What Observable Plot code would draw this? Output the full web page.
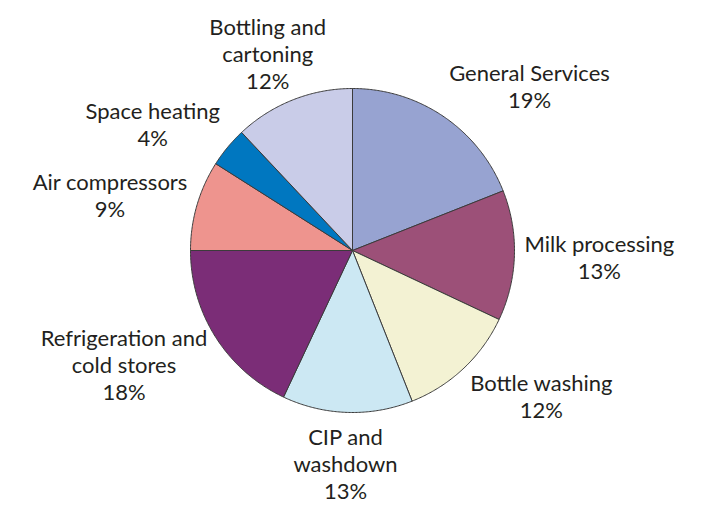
<!DOCTYPE html>
<html>
<head>
<meta charset="utf-8">
<script src="https://cdn.jsdelivr.net/npm/d3@7"></script>
<script src="https://cdn.jsdelivr.net/npm/@observablehq/plot@0.6"></script>
<style>
  html, body { margin: 0; padding: 0; background: #fff; }
</style>
</head>
<body>
<div id="chart"></div>
<script>
// ---- data ----
const categories = ["General Services", "Milk processing", "Bottle washing", "CIP and washdown",
  "Refrigeration and cold stores", "Air compressors", "Space heating", "Bottling and cartoning"];
const labelText = ["General Services", "Milk processing", "Bottle washing", "CIP and\nwashdown",
  "Refrigeration and\ncold stores", "Air compressors", "Space heating", "Bottling and\ncartoning"];
const shares = [19, 13, 12, 13, 18, 9, 4, 12];
const colors = ["#97a3d1", "#9c5078", "#f3f2d3", "#cce8f3", "#7b2d77", "#ee948e", "#0077c0", "#c9cce8"];

// ---- layout ----
const W = 705, H = 505;
const R = 162;               // pie radius in px (1 data unit)
const FONT = "Lato";
const FS = 22;
const LH = 27;               // line height px
const GAP = 10;

const total = d3.sum(shares);
let acc = 0;
const slices = shares.map((v, i) => {
  const a0 = acc / total * 2 * Math.PI;
  acc += v;
  const a1 = acc / total * 2 * Math.PI;
  return {name: categories[i], a0, a1, value: v, label: labelText[i] + "\n" + v + "%"};
});

// polygon points for each slice (clockwise from top, y up)
const pts = [];
for (const s of slices) {
  pts.push({name: s.name, x: 0, y: 0});
  const n = Math.max(2, Math.ceil((s.a1 - s.a0) / (Math.PI / 360)));
  for (let k = 0; k <= n; k++) {
    const a = s.a0 + (s.a1 - s.a0) * k / n;
    pts.push({name: s.name, x: Math.sin(a), y: Math.cos(a)});
  }
  pts.push({name: s.name, x: 0, y: 0});
}

// measure text widths with the real font via DOM layout
const probe = document.createElement("span");
probe.style.cssText = `position:absolute;visibility:hidden;white-space:pre;font:${FS}px ${FONT}`;
document.body.appendChild(probe);
function textWidth(t) { probe.textContent = t; return probe.getBoundingClientRect().width; }

// labels: anchored at the outside point on the mid-angle ray; box grows away from pie
const labels = slices.map(s => {
  const lines = s.label.split("\n");
  const w = d3.max(lines, textWidth);
  const h = lines.length * LH;
  const m = (s.a0 + s.a1) / 2;
  const sx = Math.sin(m), cy = Math.cos(m);
  const r = (R + GAP) / R;
  const side = sx > 0.5 ? 1 : sx < -0.5 ? -1 : 0;
  const xOff = side !== 0 ? side * w / 2 : sx * w / 2;
  return {
    text: s.label,
    x: r * sx + xOff / R,
    y: r * cy + cy * (h / 2) / R
  };
});
probe.remove();

const chart = Plot.plot({
  width: W,
  height: H,
  marginLeft: 190,
  marginRight: W - 190 - 2 * R,
  marginTop: 88,
  marginBottom: H - 88 - 2 * R,
  x: {domain: [-1, 1], axis: null},
  y: {domain: [-1, 1], axis: null},
  color: {domain: categories, range: colors},
  style: {background: "#fff"},
  marks: [
    Plot.line(pts, {x: "x", y: "y", z: "name", fill: "name", stroke: "#3b3b3b", strokeWidth: 1, strokeLinejoin: "round"}),
    Plot.text(labels, {x: "x", y: "y", text: "text", fontSize: FS, fontFamily: FONT,
      lineHeight: LH / FS, lineAnchor: "middle", textAnchor: "middle", fill: "#231f20"})
  ]
});
document.getElementById("chart").appendChild(chart);
</script>
</body>
</html>
